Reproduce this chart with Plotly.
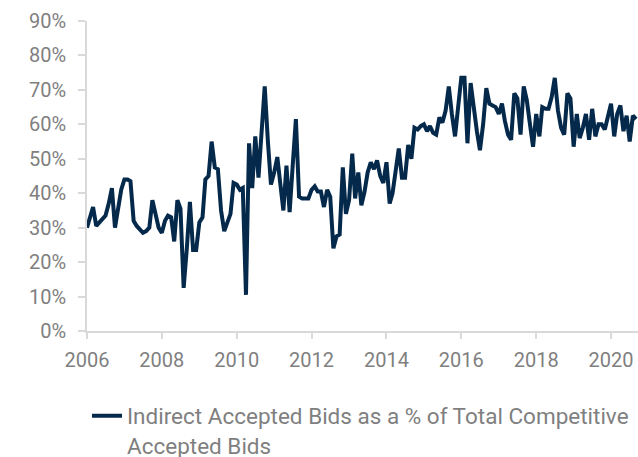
import pandas as pd
import plotly.graph_objects as go

# monthly observations, Jan 2006 - Sep 2020 (% of competitive accepted bids)
start_month = '2006-01-01'
indirect_pct = [
    30, 33, 36, 30.5, 31.5, 32.5, 33.5, 37, 41.5, 30, 36, 41,          # 2006
    44, 44, 43.5, 32, 30.5, 29.5, 28.5, 29, 30, 38, 33.5, 30,          # 2007
    28.5, 32, 33.5, 33, 26, 38, 35.5, 12.5, 24, 37.5, 23.5, 23.5,      # 2008
    31.5, 33, 44, 45, 55, 47.5, 47, 35, 29, 31.5, 34, 43,              # 2009
    42.5, 41, 41.5, 10.5, 54.5, 41.5, 56.5, 44.5, 58, 71, 55, 42.5,    # 2010
    46, 50.5, 43, 35, 48, 34.5, 48, 61.5, 39, 38.5, 38.5, 38.5,        # 2011
    41, 42, 40.5, 40.5, 36, 41, 39, 24, 27.5, 28, 47.5, 34,            # 2012
    38, 51.5, 38.5, 46, 36.5, 40.5, 46, 49, 47, 49.5, 45, 43,          # 2013
    49, 37, 40, 47, 53, 44.5, 44.5, 54, 50, 59, 58.5, 59.5,            # 2014
    60, 58, 59.5, 57.5, 57, 62, 60.5, 64, 71, 63, 56.5, 65,            # 2015
    73.5, 73.5, 54.5, 72, 64, 58, 52.5, 60, 70.5, 66, 65.5, 65,        # 2016
    63, 66, 61, 57, 55.5, 69, 67.5, 57, 71, 67, 60, 53.5,              # 2017
    63, 56.5, 65, 64.5, 64.5, 68, 73.5, 64, 59, 57, 69, 67.5,          # 2018
    53.5, 63, 56, 59, 63, 55.5, 64.5, 56.5, 60, 60, 58.5, 62,          # 2019
    66, 56.5, 63, 65.5, 58, 62.5, 55, 62.5, 61.5,                      # 2020
]
months = pd.date_range(start_month, periods=len(indirect_pct), freq='MS')
series_name = 'Indirect Accepted Bids as a % of Total Competitive<br>Accepted Bids'

axis_grey = '#d9d9d9'
text_grey = '#7f7f7f'

fig = go.Figure()
fig.add_trace(go.Scatter(
    x=months,
    y=[v / 100 for v in indirect_pct],
    mode='lines',
    name=series_name,
    line=dict(color='#04294b', width=4),
))

fig.update_layout(
    width=638, height=457,
    margin=dict(l=87, r=0, t=21, b=126, autoexpand=False),
    paper_bgcolor='white', plot_bgcolor='white',
    font=dict(family='Roboto, sans-serif', size=20, color=text_grey),
    showlegend=True,
    legend=dict(orientation='h', x=0.0, xanchor='left', y=-0.205, yanchor='top',
                valign='top', font=dict(size=22.5, color=text_grey)),
    xaxis=dict(
        type='date', range=['2006-01-01', '2020-09-20'], automargin=False,
        tick0='2006-01-01', dtick='M24', tickformat='%Y',
        showgrid=False, zeroline=False,
        showline=True, linecolor=axis_grey, linewidth=1.5,
        ticks='outside', ticklen=6, tickcolor=axis_grey, tickwidth=1.5,
        ticklabelstandoff=4,
    ),
    yaxis=dict(
        range=[0, 0.9], dtick=0.1, tickformat='.0%', automargin=False,
        showgrid=False, zeroline=False,
        showline=True, linecolor=axis_grey, linewidth=1.5,
        ticks='outside', ticklen=7, tickcolor=axis_grey, tickwidth=1.5,
        ticklabelstandoff=8,
    ),
)

# drop the browser's default body margin so the figure sits at the window corner
fig.write_html('out.html', config={'displayModeBar': False},
               post_script="document.body.style.margin='0';")
